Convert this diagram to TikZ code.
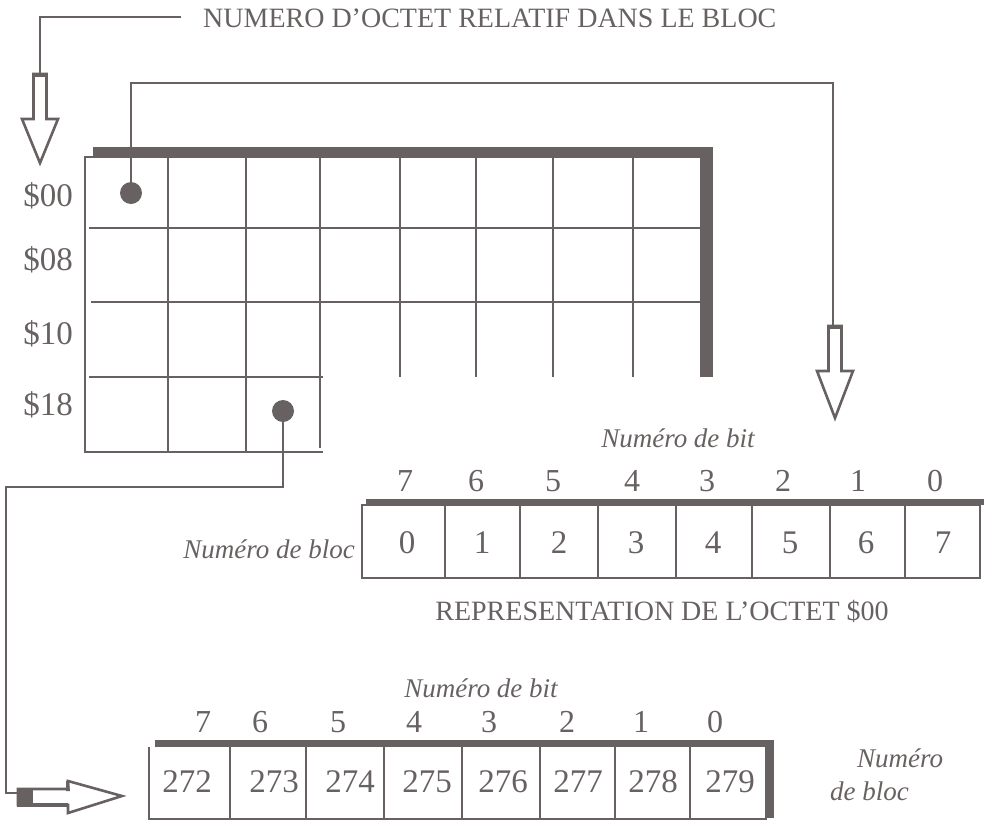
\documentclass[tikz,border=0pt]{standalone}
\usepackage{fontspec}
\setmainfont{Liberation Serif}
\usetikzlibrary{calc}
\definecolor{ink}{RGB}{104,97,97}
\begin{document}
\begin{tikzpicture}[x=1pt,y=-1pt,
  thin line/.style={draw=ink,line width=2pt},
  hollow/.style={draw=ink,line width=2.6pt,fill=white,line join=miter},
  conn/.style={draw=ink,line width=1.8pt},
  dotnode/.style={circle,fill=ink,minimum size=22pt,inner sep=0pt},
  lab/.style={text=ink,font=\fontsize{33}{33}\selectfont,inner sep=0pt},
  cellnum/.style={text=ink,font=\fontsize{33}{33}\selectfont,inner sep=0pt},
  bitnum/.style={text=ink,font=\fontsize{32}{32}\selectfont,inner sep=0pt},
  ital/.style={text=ink,font=\itshape\fontsize{27}{27}\selectfont,inner sep=0pt},
  caps/.style={text=ink,font=\fontsize{28}{28}\selectfont,inner sep=0pt}]
\useasboundingbox (0,0) rectangle (984,822);

% ---------- title and first arrow ----------
\node[caps,anchor=base west] (title) at (203,27) {NUMERO D'OCTET RELATIF DANS LE BLOC};
\coordinate (t0) at (181,17);
\coordinate (a1) at (40,74);
\draw[conn] (t0) -- (40,17) -- (a1);
\draw[hollow] ($(a1)+(-6.5,0)$) -- ++(0,45) -- ++(-11.5,0) -- ($(a1)+(0,89)$) -- ($(a1)+(18,45)$) -- ++(-11.5,0) -- ($(a1)+(6.5,0)$) -- cycle;
\fill[ink] ($(a1)+(-7.8,-1)$) rectangle ($(a1)+(7.8,3)$);

% ---------- grid ----------
\draw[thin line] (93,157) -- (85,157) -- (85,452) -- (323,452);
\foreach \x in {168,246} \draw[thin line] (\x,157) -- (\x,452);
\draw[thin line] (320,157) -- (320,448);
\foreach \x in {400,476,553,633} \draw[thin line] (\x,157) -- (\x,377);
\draw[thin line] (89,228) -- (700,228);
\draw[thin line] (91,302) -- (700,302);
\draw[thin line] (89,377) -- (323,377);
\fill[ink] (93,147) rectangle (713,158);
\fill[ink] (700,147) rectangle (713,377);

% row labels
\node[lab,anchor=east] (r00) at (73,196) {\$00};
\node[lab,anchor=east] (r08) at (73,260) {\$08};
\node[lab,anchor=east] (r10) at (73,334) {\$10};
\node[lab,anchor=east] (r18) at (73,405) {\$18};

% dots
\node[dotnode] (d1) at (131,193) {};
\node[dotnode] (d2) at (283,411) {};

% ---------- connector from d1 to bit box ----------
\coordinate (a2) at (835,326);
\draw[conn] (d1.center) -- (131,83) -- (833,83) -- (833,326);
\draw[hollow] ($(a2)+(-6.5,0)$) -- ++(0,45) -- ++(-11.5,0) -- ($(a2)+(0,92)$) -- ($(a2)+(18,45)$) -- ++(-11.5,0) -- ($(a2)+(6.5,0)$) -- cycle;
\fill[ink] ($(a2)+(-7.8,-1)$) rectangle ($(a2)+(7.8,3)$);

% ---------- bit box 1 ----------
\node[ital] (nb1) at (678,438) {Numéro de bit};
\foreach \v/\x in {7/405,6/476,5/553,4/632,3/707,2/783,1/858,0/935}
  \node[bitnum] (b1-\v) at (\x,481) {\v};
\fill[ink] (366,499) rectangle (984,505);
\draw[thin line] (362,505) rectangle (980,578);
\foreach \x in {445,520,598,676,752,830,905} \draw[thin line] (\x,505) -- (\x,578);
\foreach \v/\x in {0/407,1/482,2/559,3/636,4/713,5/790,6/866,7/943}
  \node[cellnum] (c1-\v) at (\x,543) {\v};
\node[ital,anchor=east] (nbl1) at (355,549) {Numéro de bloc};
\node[caps] (rep) at (662,611) {REPRESENTATION DE L'OCTET \$00};

% ---------- connector from d2 to bit box 2 ----------
\coordinate (a3) at (18,797);
\draw[conn] (d2.center) -- (283,487) -- (6,487) -- (6,793) -- (18,793);
\draw[hollow] (a3) ++(0,-8) -- ++(50,0) -- ++(0,-8) -- (122,796) -- (68,813) -- ++(0,-8) -- (18,805) -- cycle;
\fill[ink] (17,788) rectangle (33,806.5);
\fill[ink] (33,803) rectangle (68,806.5);
\fill[ink] (66,781) -- (69,781) -- (70,791) -- (66,791) -- cycle;

% ---------- bit box 2 ----------
\node[ital] (nb2) at (481,688) {Numéro de bit};
\foreach \v/\x in {7/203,6/260,5/338,4/414,3/489,2/567,1/641,0/715}
  \node[bitnum] (b2-\v) at (\x,722) {\v};
\fill[ink] (155,740) rectangle (773,747);
\fill[ink] (765,740) rectangle (774,818);
\draw[thin line] (149,747) -- (149,819) -- (767,819);
\foreach \x in {230,306,384,462,540,615,690} \draw[thin line] (\x,747) -- (\x,819);
\foreach \v/\x in {272/187,273/274,274/350,275/427,276/503,277/578,278/653,279/730}
  \node[cellnum] (c2-\v) at (\x,782) {\v};
\node[ital,anchor=base west] (nbl2a) at (857,767) {Numéro};
\node[ital,anchor=base west] (nbl2b) at (830,800) {de bloc};
\end{tikzpicture}
\end{document}
